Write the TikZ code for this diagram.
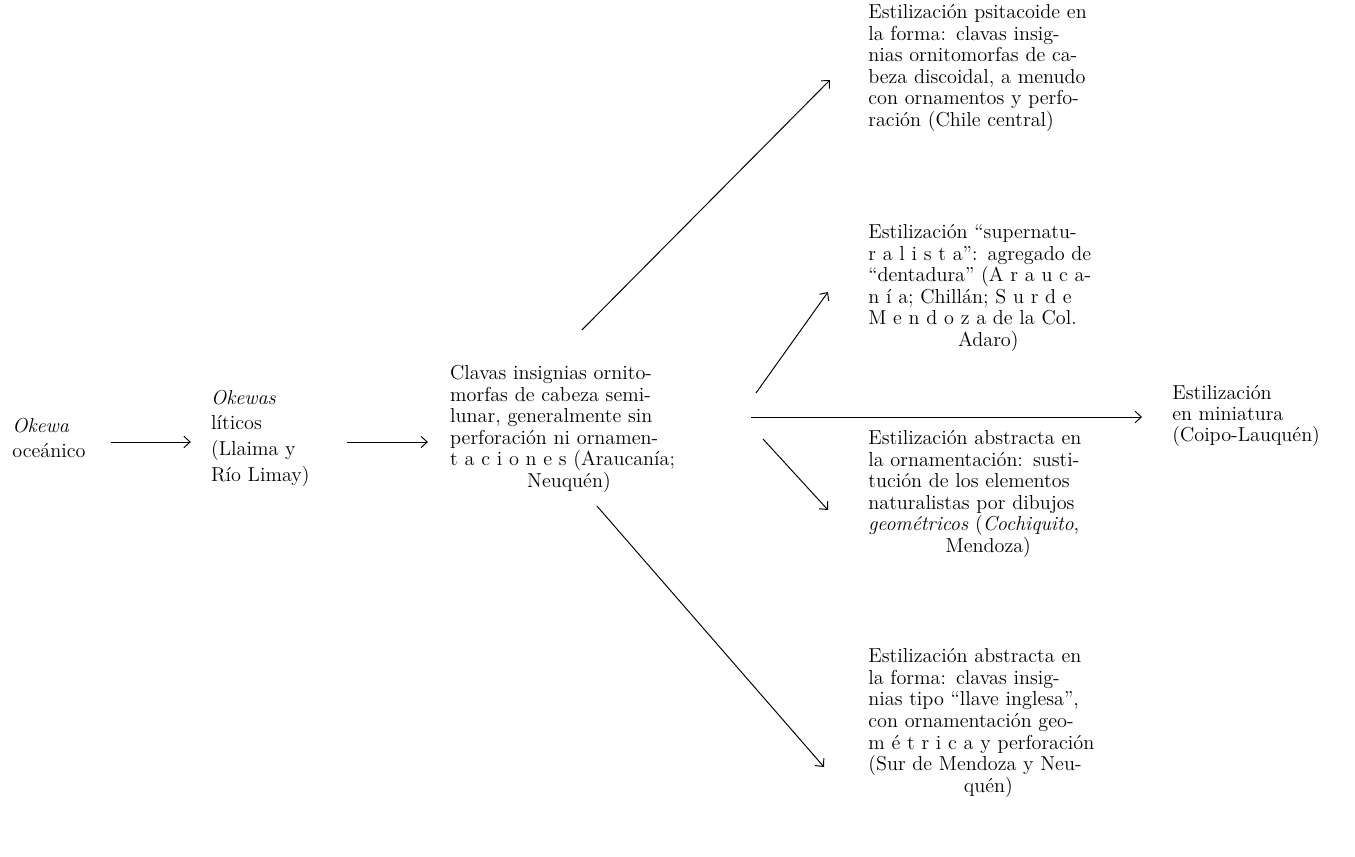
\documentclass[tikz,border=0pt]{standalone}
\usepackage{fontspec}
\usepackage{tikz}
\usetikzlibrary{arrows.meta, positioning}

\newcommand{\renglon}[1]{\makebox[\hsize][s]{#1}}

\tikzset{
    texto/.style={inner sep=0pt, font=\fontsize{11.5}{12.3}\selectfont},
    izq/.style={inner sep=0pt, align=left, font=\fontsize{11.5}{14.6}\selectfont},
    bloque/.style={texto, text width=4.8cm, align=center, anchor=west},
    flecha/.style={-{Straight Barb[length=3.5pt, width=6.5pt]}, line width=0.55pt},
}

\begin{document}
\begin{tikzpicture}[x=0.02cm, y=-0.02cm]
    \useasboundingbox (0,0) rectangle (1355,857);

    % fila central
    \node[izq, anchor=west] (okewa) at (12,438) {\textit{Okewa}\\ oceánico};
    \node[izq, right=2.5cm of okewa] (liticos) {\textit{Okewas}\\ líticos\\ (Llaima y\\ Río Limay)};
    \node[texto, text width=4.75cm, align=center, right=2.8cm of liticos, yshift=0.18cm] (clavas) {
        \renglon{Clavas insignias ornito-}\\
        \renglon{morfas de cabeza semi-}\\
        \renglon{lunar, generalmente sin}\\
        \renglon{perforación ni ornamen-}\\
        \renglon{t a c i o n e s (Araucanía;}\\
        Neuquén)};

    % columna derecha
    \node[bloque] (psita) at (868,68) {
        \renglon{Estilización psitacoide en}\\
        \renglon{la forma: clavas insig-}\\
        \renglon{nias ornitomorfas de ca-}\\
        \renglon{beza discoidal, a menudo}\\
        \renglon{con ornamentos y perfo-}\\
        \renglon{ración (Chile central)}};
    \node[bloque] (super) at (868,288) {
        \renglon{Estilización “supernatu-}\\
        \renglon{r a l i s t a”: agregado de}\\
        \renglon{“dentadura” (A r a u c a-}\\
        \renglon{n í a; Chillán; S u r d e}\\
        \renglon{M e n d o z a de la Col.}\\
        Adaro)};
    \node[bloque] (ornam) at (868,494) {
        \renglon{Estilización abstracta en}\\
        \renglon{la ornamentación: susti-}\\
        \renglon{tución de los elementos}\\
        \renglon{naturalistas por dibujos}\\
        \renglon{\textit{geométricos} (\textit{Cochiquito},}\\
        Mendoza)};
    \node[bloque] (llave) at (868,723) {
        \renglon{Estilización abstracta en}\\
        \renglon{la forma: clavas insig-}\\
        \renglon{nias tipo “llave inglesa”,}\\
        \renglon{con ornamentación geo-}\\
        \renglon{m é t r i c a y perforación}\\
        \renglon{(Sur de Mendoza y Neu-}\\
        quén)};
    \node[izq, anchor=west, font=\fontsize{11.5}{12}\selectfont] (mini) at (1172,416) {Estilización\\ en miniatura\\ (Coipo-Lauquén)};

    % flechas
    \coordinate (ini1) at ([shift={(25,4)}]okewa.east);
    \coordinate (ini2) at ([shift={(37,4)}]liticos.east);
    \coordinate (haz) at ([shift={(63,-12)}]clavas.east);
    \draw[flecha, shorten >=0.4cm] (ini1) -- (ini1 -| liticos.west);
    \draw[flecha, shorten >=0.44cm] (ini2) -- (ini2 -| clavas.west);
    \draw[flecha] ([shift={(13,-35)}]clavas.north) -- ([shift={(-38,12)}]psita.west);
    \draw[flecha] ([shift={(68,-36)}]clavas.east) -- ([shift={(-40,4)}]super.west);
    \draw[flecha, shorten >=0.6cm] (haz) -- (haz -| mini.west);
    \draw[flecha] ([shift={(75,10)}]clavas.east) -- ([shift={(-40,16)}]ornam.west);
    \draw[flecha] ([shift={(28,13)}]clavas.south) -- ([shift={(-44,44)}]llave.west);
\end{tikzpicture}
\end{document}
